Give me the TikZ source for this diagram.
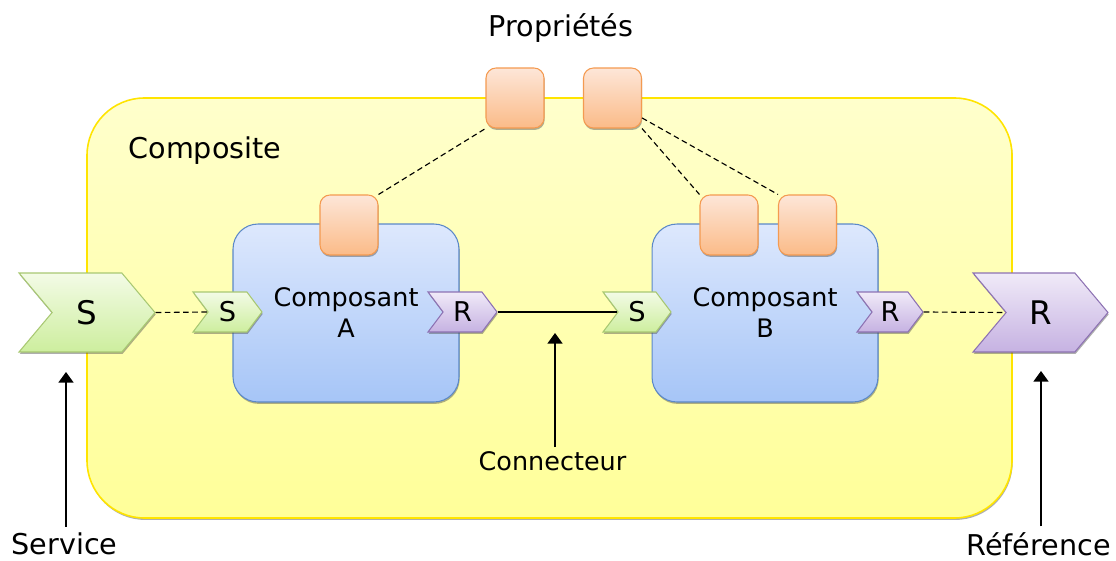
\documentclass[tikz,border=0pt]{standalone}
\usepackage{fontspec}
\setmainfont{DejaVu Sans}
\usepackage{tikz}
\usetikzlibrary{shapes.symbols, shadows, arrows.meta}
\newcommand{\titletxt}{\fontsize{16.3pt}{19.6pt}\selectfont}
\newcommand{\boxtxt}{\fontsize{14.5pt}{17.6pt}\selectfont}
\newcommand{\bigport}{\fontsize{18.5pt}{21pt}\selectfont}
\newcommand{\smallport}{\fontsize{15.5pt}{18pt}\selectfont}

\definecolor{compositeTop}{HTML}{FFFFCC}
\definecolor{compositeBot}{HTML}{FFFF99}
\definecolor{compositeLine}{HTML}{FFE400}
\definecolor{boxTop}{HTML}{DDE8FD}
\definecolor{boxBot}{HTML}{A6C5F7}
\definecolor{boxLine}{HTML}{5B88C8}
\definecolor{propTop}{HTML}{FDE6D8}
\definecolor{propBot}{HTML}{FBBB88}
\definecolor{propLine}{HTML}{F49A50}
\definecolor{svcTop}{HTML}{F3FBE6}
\definecolor{svcBot}{HTML}{CDEE9E}
\definecolor{svcLine}{HTML}{A8C872}
\definecolor{refTop}{HTML}{F0EAF8}
\definecolor{refBot}{HTML}{C6B2E2}
\definecolor{refLine}{HTML}{8D72B3}

\begin{document}
\begin{tikzpicture}[x=0.02cm, y=-0.02cm,
    softshadow/.style={drop shadow={shadow xshift=0.4pt, shadow yshift=-1.1pt, opacity=0.45, fill=black!70}},
    port/.style={signal, signal from=west, signal to=east, inner sep=0pt, line width=0.6pt, softshadow},
    svcport/.style={port, draw=svcLine, top color=svcTop, bottom color=svcBot},
    refport/.style={port, draw=refLine, top color=refTop, bottom color=refBot},
    compbox/.style={rectangle, rounded corners=0.5cm, draw=boxLine, line width=0.6pt, top color=boxTop, bottom color=boxBot,
        minimum width=4.52cm, minimum height=3.56cm, align=center, font=\boxtxt, softshadow},
    propbox/.style={rectangle, rounded corners=0.2cm, draw=propLine, line width=0.6pt, top color=propTop, bottom color=propBot,
        minimum width=1.16cm, minimum height=1.2cm, inner sep=0pt, softshadow},
    link/.style={black, line width=0.65pt, dash pattern=on 3.2pt off 2pt},
    pointer/.style={black, line width=0.85pt, -{Triangle[length=6pt, width=8.5pt]}}
]
    \useasboundingbox (0,0) rectangle (1116,561);

    % --- Composite (background) ---
    \draw[compositeLine, line width=0.9pt, top color=compositeTop, bottom color=compositeBot, rounded corners=1.15cm, softshadow]
        (87,98) rectangle (1012,518);
    \node[font=\titletxt] (composite) at (205,151) {Composite};
    \node[font=\titletxt] (props) at (561,28) {Propriétés};

    % --- Components ---
    \node[compbox] (compA) at (346,313) {Composant\\A};
    \node[compbox] (compB) at (765,313) {Composant\\B};

    % --- Properties ---
    \node[propbox] (propTopA) at (515,98) {};
    \node[propbox] (propTopB) at (612.5,98) {};
    \node[propbox] (propA) at (349,225) {};
    \node[propbox] (propB1) at (729,225) {};
    \node[propbox] (propB2) at (807.5,225) {};

    % --- Services and references ---
    \node[svcport, signal pointer angle=100, minimum width=2.72cm, minimum height=1.58cm, font=\bigport] (svc) at (87,312.5) {S\hspace{7pt}};
    \node[svcport, signal pointer angle=106, minimum width=1.38cm, minimum height=0.8cm, font=\smallport] (svcA) at (227.5,312) {S\hspace{2.5pt}};
    \node[refport, signal pointer angle=106, minimum width=1.38cm, minimum height=0.8cm, font=\smallport] (refA) at (462.5,312) {R\hspace{2.5pt}};
    \node[svcport, signal pointer angle=106, minimum width=1.36cm, minimum height=0.8cm, font=\smallport] (svcB) at (637,312) {S\hspace{2.5pt}};
    \node[refport, signal pointer angle=106, minimum width=1.32cm, minimum height=0.8cm, font=\smallport] (refB) at (890,312) {R\hspace{2.5pt}};
    \node[refport, signal pointer angle=100, minimum width=2.7cm, minimum height=1.58cm, font=\bigport] (ref) at (1040.5,312.5) {R\hspace{7pt}};

    % --- Wires ---
    \draw[link] (svc.east) -- (svcA.west);
    \draw[link] (refB.east) -- (ref.west);
    \draw[black, line width=0.75pt] (refA.east) -- (svcB.west);

    \draw[link] (propA.north east) -- (propTopA.south west);
    \draw[link] (propTopB.south east) -- (propB1.north west);
    \draw[link] (propTopB.-34) -- (propB2.north west);

    % --- Labels below ---
    \node[font=\titletxt, anchor=base, inner sep=3pt] (service) at (64.5,554) {Service};
    \node[font=\boxtxt, anchor=base, inner sep=2pt] (connector) at (552.5,470) {Connecteur};
    \node[font=\titletxt, anchor=base, inner sep=3pt] (reference) at (1038.5,555) {Référence};

    \coordinate (tipS) at (66,372);
    \coordinate (tipC) at (555,333);
    \coordinate (tipR) at (1041,371);

    \draw[pointer] (tipS |- service.north) -- (tipS);
    \draw[pointer] (tipC |- connector.north) -- (tipC);
    \draw[pointer] (tipR |- reference.north) -- (tipR);
\end{tikzpicture}
\end{document}
